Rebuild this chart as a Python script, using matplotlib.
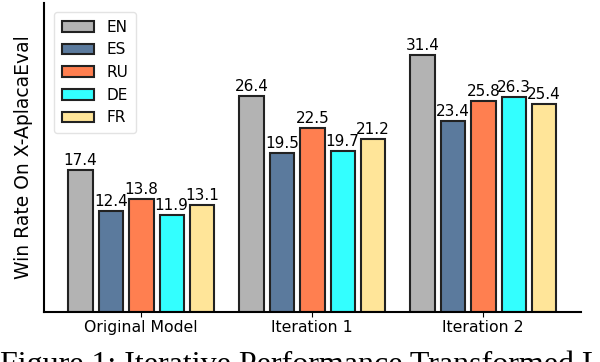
import numpy as np
import matplotlib.pyplot as plt

groups = ["Original Model", "Iteration 1", "Iteration 2"]
languages = ["EN", "ES", "RU", "DE", "FR"]
win_rates = {
    "EN": [17.4, 26.4, 31.4],
    "ES": [12.4, 19.5, 23.4],
    "RU": [13.8, 22.5, 25.8],
    "DE": [11.9, 19.7, 26.3],
    "FR": [13.1, 21.2, 25.4],
}
colors = ["#b3b3b3", "#5b7a9d", "#ff7f50", "#33ffff", "#ffe599"]
caption = "Figure 1: Iterative Performance Transformed Language"

fig = plt.figure(figsize=(6.0, 3.62), dpi=100)
ax = fig.add_axes([0.073, 0.138, 0.895, 0.854])

x = np.arange(len(groups))
step = 0.178
width = 0.143
for i, lang in enumerate(languages):
    vals = win_rates[lang]
    bars = ax.bar(x + (i - 2) * step, vals, width, color=colors[i],
                  edgecolor="#222222", linewidth=1.5, label=lang)
    for b, v in zip(bars, vals):
        ax.text(b.get_x() + b.get_width() / 2, v + 0.25, f"{v}",
                ha="center", va="bottom", fontsize=11)

ax.set_ylim(0, 37.8)
ax.set_xticks(x)
ax.set_xticklabels(groups, fontsize=11.3)
ax.tick_params(axis="x", pad=2)
ax.set_yticks([])
ax.set_ylabel("Win Rate On X-AplacaEval", fontsize=13.5, labelpad=8)
ax.spines["top"].set_visible(False)
ax.spines["right"].set_visible(False)
ax.spines["left"].set_linewidth(1.5)
ax.spines["bottom"].set_linewidth(1.5)
leg = ax.legend(loc="upper left", fontsize=11, handlelength=2.1, borderpad=0.5,
                labelspacing=0.5, handletextpad=0.8, bbox_to_anchor=(0.005, 0.995))
leg.get_frame().set_edgecolor("#dddddd")

# caption of the paper figure, clipped at the bottom edge as in the source
fig.text(0.0, -0.03, caption, fontsize=23, family="Liberation Serif",
         ha="left", va="baseline")

fig.savefig("out.png", dpi=100)
